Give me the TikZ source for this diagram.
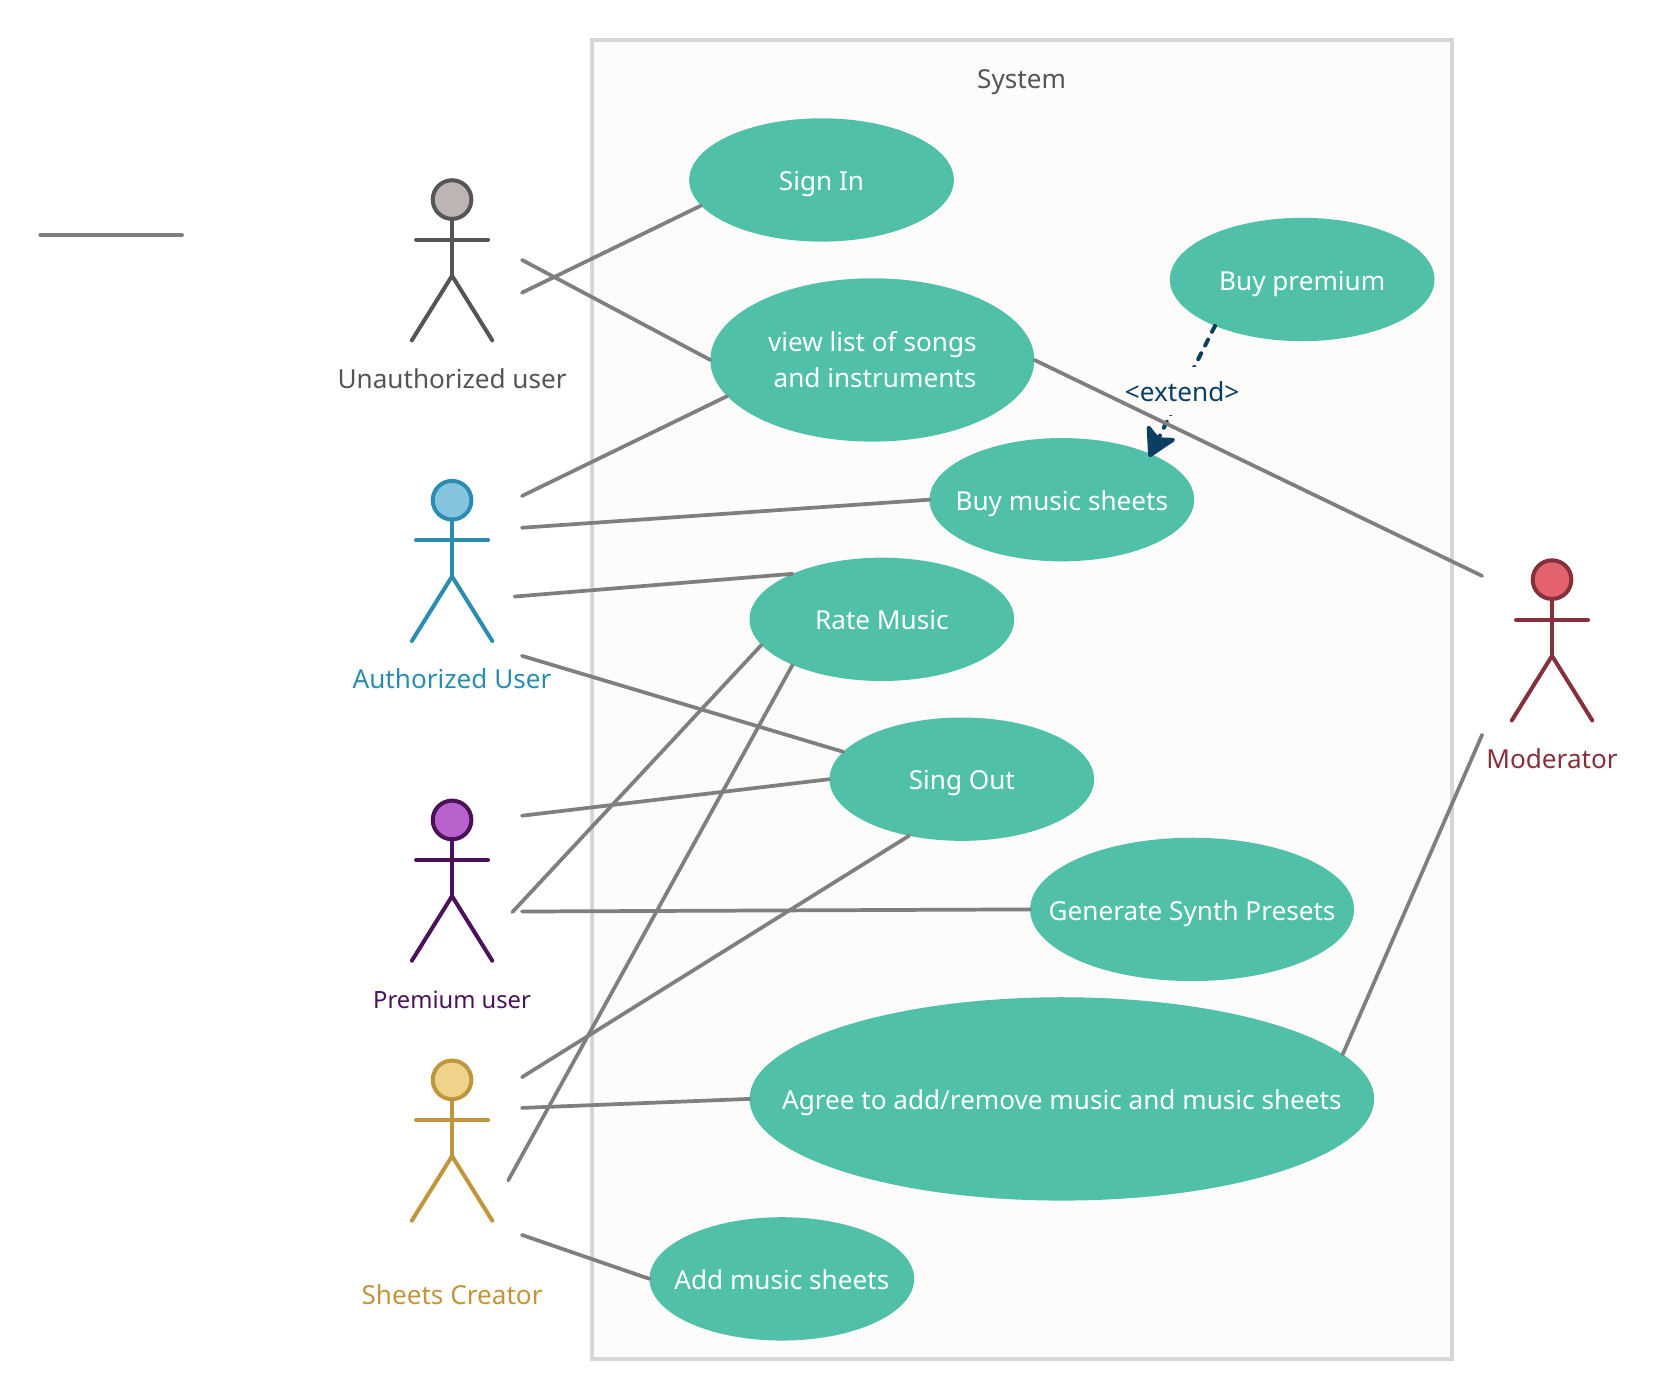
\documentclass[tikz,border=0pt]{standalone}
\usepackage{fontspec}
\setmainfont{Noto Sans}
\usetikzlibrary{shapes.geometric,arrows.meta}

\definecolor{casefill}{HTML}{51C0A9}
\definecolor{sysfill}{HTML}{FDFCFA}
\definecolor{sysline}{HTML}{D6D6D6}
\definecolor{assocline}{HTML}{7F7F7F}
\definecolor{extendline}{HTML}{0B3F62}
\definecolor{unauthline}{HTML}{555555}
\definecolor{unauthfill}{HTML}{BDB4B4}
\definecolor{authline}{HTML}{2B8CB0}
\definecolor{authfill}{HTML}{85C4DE}
\definecolor{premline}{HTML}{4A1259}
\definecolor{premfill}{HTML}{B863CB}
\definecolor{sheetline}{HTML}{BF963C}
\definecolor{sheetfill}{HTML}{F0D28B}
\definecolor{modline}{HTML}{85303A}
\definecolor{modfill}{HTML}{E2636E}

\tikzset{
  usecase/.style={ellipse,fill=casefill,text=white,font=\fontsize{19.6}{27}\selectfont,align=center,
    inner xsep=-60pt,inner ysep=0pt,outer sep=0pt,minimum width=198.5pt,minimum height=92.5pt},
  onecase/.style={usecase,text height=16pt,text depth=0pt},
  assoc/.style={draw=assocline,line width=2.8pt,line cap=round},
  actorhead/.style={circle,line width=3pt,minimum size=29pt,inner sep=0pt,outer sep=0pt},
  actorbody/.style={line width=3pt,line cap=round,line join=round},
}

\begin{document}
\begin{tikzpicture}[x=0.794pt,y=-0.794pt]
  \useasboundingbox (0,0) rectangle (1568,1322);
  % system box
  \node[draw=sysline,fill=sysfill,line width=3pt,rectangle,minimum width=645pt,minimum height=989pt,inner sep=0pt,outer sep=0pt] (system) at (965,660.5) {};
  \node[text=unauthline,font=\fontsize{19.6}{23}\selectfont] (systemname) at (965,78) {System};

  % use cases
  \node[onecase] (signin) at (776,170) {Sign In};
  \node[onecase] (premium) at (1230,264) {Buy premium};
  \node[usecase,minimum width=243pt,minimum height=122.5pt] (songs) at (824,340) {view list of songs\\\hspace*{4pt}and instruments};
  \node[onecase] (sheets) at (1003,472) {Buy music sheets};
  \node[onecase] (rate) at (833,585) {Rate Music};
  \node[onecase] (singout) at (908.5,736) {Sing Out};
  \node[onecase,minimum width=243pt,minimum height=107.5pt] (synth) at (1126,859) {Generate Synth Presets};
  \node[onecase,minimum width=468.5pt,minimum height=152.5pt] (agree) at (1003,1038) {Agree to add/remove music and music sheets};
  \node[onecase] (addsheets) at (738.5,1208) {Add music sheets};

  % actors
  \foreach \name/\x/\y/\ly/\col/\size/\txt in {
    unauth/427/188.5/358/unauth/19.6/Unauthorized user,
    auth/427/472.5/641/auth/19.6/Authorized User,
    prem/427/774.5/944/prem/17.8/Premium user,
    sheet/427/1020/1223/sheet/19.6/Sheets Creator,
    mod/1466/547.5/717/mod/19.6/Moderator}{
    \node[actorhead,draw=\col line,fill=\col fill] (\name head) at (\x,\y) {};
    \coordinate (\name hip) at (\x,\y+72);
    \draw[actorbody,draw=\col line] (\name head.south) -- (\name hip);
    \draw[actorbody,draw=\col line] (\x-34,\y+38) -- (\x+34,\y+38);
    \draw[actorbody,draw=\col line] (\x-38,\y+133) -- (\name hip) -- (\x+38,\y+133);
    \node[text=\col line,font=\fontsize{\size}{23}\selectfont] (\name name) at (\x,\ly) {\txt};
  }

  % extend
  \coordinate (extendtip) at (1085.5,431.6);
  \draw[extendline,line width=3pt,line cap=round,dash pattern=on 5pt off 6.5pt,
    -{Stealth[length=24pt,width=27pt,inset=6pt,round,sep=0pt]}] (premium.208) --
    node[fill=sysfill,text=extendline,inner xsep=0pt,inner ysep=0pt,minimum height=36pt,font=\fontsize{19.6}{23}\selectfont] (extendlabel) {<extend>} (extendtip);

  % free ends of the associations
  \coordinate (stubl) at (38,222);
  \coordinate (stubr) at (172,222);
  \foreach \name/\x/\y in {ua/493/276.5,ub/493/245.5,aa/493/468.5,ab/493/498.5,ac/486/563.5,ad/493/619.5,
    pa/493/770.5,pb/484/861.5,pc/493/861,sa/493/1017.5,sb/493/1046.5,sc/480/1115,sd/493/1166.5,
    ma/1400/544,mb/1400/694}{
    \coordinate (\name) at (\x,\y);
  }

  % associations
  \draw[assoc] (stubl) -- (stubr);
  \draw[assoc] (ua) -- (signin.192.3);
  \draw[assoc] (ub) -- (songs.west);
  \draw[assoc] (aa) -- (songs.194);
  \draw[assoc] (ab) -- (sheets.west);
  \draw[assoc] (ac) -- (rate.153.4);
  \draw[assoc] (ad) -- (singout.167.3);
  \draw[assoc] (pa) -- (singout.west);
  \draw[assoc] (pb) -- (rate.192.5);
  \draw[assoc] (pc) -- (synth.west);
  \draw[assoc] (sa) -- (singout.227);
  \draw[assoc] (sb) -- (agree.west);
  \draw[assoc] (sc) -- (rate.207);
  \draw[assoc] (sd) -- (addsheets.west);
  \draw[assoc] (songs.east) -- (ma);
  \draw[assoc] (agree.9.2) -- (mb);
\end{tikzpicture}
\end{document}
